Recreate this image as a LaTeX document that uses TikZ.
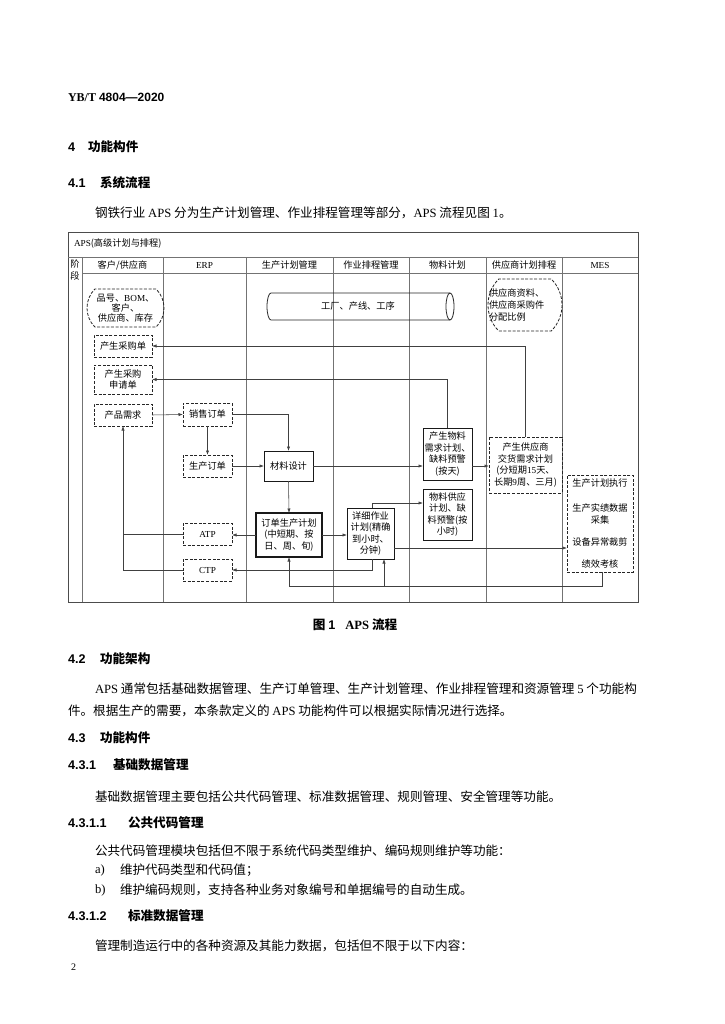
\documentclass[tikz,border=0pt]{standalone}
\usepackage{fontspec}
\setmainfont{Noto Sans CJK SC}
\newfontfamily\lat{Liberation Serif}
\newfontfamily\latsans{Liberation Sans}
\usetikzlibrary{arrows.meta,shapes.misc}
\newcommand\bodyf{\fontsize{12.6}{15}\selectfont}
\newcommand\headf{\fontsize{12.6}{15}\selectfont\bfseries}
\newcommand\numf{\latsans\bfseries\fontsize{12.6}{15}\selectfont}
\newcommand\dgf{\fontsize{9.2}{11.5}\selectfont}
\begin{document}
\begin{tikzpicture}[x=1pt,y=-1pt,
  every node/.style={inner sep=0pt, outer sep=0pt},
  body/.style={anchor=west, font=\bodyf},
  head/.style={anchor=west, font=\headf},
  num/.style={anchor=west, font=\numf},
  grid/.style={draw=black!55, line width=0.5pt},
  dg/.style={font=\dgf, align=center},
  dbox/.style={dg, draw=black!85, line width=0.8pt, dash pattern=on 3pt off 1.6pt},
  sbox/.style={dg, draw=black!90, line width=0.9pt},
  conn/.style={draw=black!75, line width=0.55pt, -{Latex[length=4.5pt,width=3.2pt]}},
  plain/.style={draw=black!75, line width=0.55pt}]
\useasboundingbox[fill=white] (0,0) rectangle (724,1024);

% ---------- page text ----------
\node[anchor=west] (hdr) at (68,97) {{\lat\bfseries\fontsize{12}{14}\selectfont YB/T}\hspace{3pt}{\latsans\bfseries\fontsize{12}{14}\selectfont 4804—2020}};
\node[num] (n4) at (68,147) {4};
\node[head] (h4) at (88,147) {功能构件};
\node[num] (n41) at (68,183) {4.1};
\node[head] (h41) at (100,183) {系统流程};
\node[body] (p1) at (95,213) {钢铁行业 {\lat APS} 分为生产计划管理、作业排程管理等部分，{\lat APS} 流程见图 {\lat 1}。};

\node[font=\headf] (cap) at (355,625) {图 {\latsans 1}\hspace{0.8em}{\lat\bfseries APS} 流程};
\node[num] (n42) at (68,659) {4.2};
\node[head] (h42) at (100,659) {功能架构};
\node[body] (p2) at (95,689) {{\lat APS} 通常包括基础数据管理、生产订单管理、生产计划管理、作业排程管理和资源管理 {\lat 5} 个功能构};
\node[body] (p3) at (68,711) {件。根据生产的需要，本条款定义的 {\lat APS} 功能构件可以根据实际情况进行选择。};
\node[num] (n43) at (68,738) {4.3};
\node[head] (h43) at (100,738) {功能构件};
\node[num] (n431) at (68,765) {4.3.1};
\node[head] (h431) at (113,765) {基础数据管理};
\node[body] (p4) at (95,797) {基础数据管理主要包括公共代码管理、标准数据管理、规则管理、安全管理等功能。};
\node[num] (n4311) at (68,823) {4.3.1.1};
\node[head] (h4311) at (128,823) {公共代码管理};
\node[body] (p5) at (95,851) {公共代码管理模块包括但不限于系统代码类型维护、编码规则维护等功能：};
\node[body] (la) at (95,870) {{\lat a)}};
\node[body] (pa) at (120,870) {维护代码类型和代码值；};
\node[body] (lb) at (95,890) {{\lat b)}};
\node[body] (pb) at (120,890) {维护编码规则，支持各种业务对象编号和单据编号的自动生成。};
\node[num] (n4312) at (68,916) {4.3.1.2};
\node[head] (h4312) at (128,916) {标准数据管理};
\node[body] (p6) at (95,946) {管理制造运行中的各种资源及其能力数据，包括但不限于以下内容：};
\node[anchor=west, font=\lat\fontsize{10}{12}\selectfont] (pg) at (71,967) {2};

% ---------- diagram frame ----------
\draw[grid, draw=black!70] (68,232) rectangle (638,602);
\draw[grid] (68,257) -- (638,257);
\draw[grid] (82,273) -- (638,273);
\foreach \xx in {82,163,246,333,409,486,562} \draw[grid] (\xx,257) -- (\xx,602);

\node[anchor=west, font=\dgf] (ttl) at (74,244) {{\lat APS}(高级计划与排程)};
\node[dg] (jd) at (75,270) {阶\\段};
\node[dg] (c1h) at (122.5,265) {客户/供应商};
\node[dg] (c2h) at (204.5,265) {{\lat ERP}};
\node[dg] (c3h) at (289.5,265) {生产计划管理};
\node[dg] (c4h) at (371,265) {作业排程管理};
\node[dg] (c5h) at (447.5,265) {物料计划};
\node[dg] (c6h) at (524,265) {供应商计划排程};
\node[dg] (c7h) at (600,265) {{\lat MES}};

% ---------- cylinder ----------
\draw[draw=black!85, line width=0.8pt] (271,293) -- (450,293)
  (271,320) -- (450,320)
  (271,293) arc[start angle=90, end angle=270, x radius=4pt, y radius=13.5pt];
\draw[draw=black!85, line width=0.8pt] (450,306.5) ellipse [x radius=4pt, y radius=13.5pt];
\node[dg] (cyl) at (358,306.5) {工厂、产线、工序};

% ---------- nodes ----------
\node[dbox, rounded rectangle, rounded rectangle arc length=90, minimum width=77pt, minimum height=38pt, font=\fontsize{9.2}{10}\selectfont] (pin) at (125.5,308) {品号、{\lat BOM}、\\客户、\\供应商、库存};
\node[dbox, rounded rectangle, rounded rectangle arc length=90, minimum width=74pt, minimum height=52pt] (gysz) at (525,305) {};
\node[anchor=west, align=left, font=\fontsize{9.2}{12}\selectfont] (gyszt) at (489,305) {供应商资料、\\供应商采购件\\分配比例};

\node[dbox, minimum width=58pt, minimum height=22pt] (cg1) at (123,346) {产生采购单};
\node[dbox, minimum width=58pt, minimum height=29pt] (cg2) at (123,379.5) {产生采购\\申请单};
\node[dbox, minimum width=58pt, minimum height=22pt] (cpxq) at (123,415) {产品需求};
\node[dbox, minimum width=49pt, minimum height=23pt] (xsdd) at (207.5,414.5) {销售订单};
\node[dbox, minimum width=49pt, minimum height=22pt] (scdd) at (207.5,466) {生产订单};
\node[sbox, minimum width=49pt, minimum height=30pt] (clsj) at (288.5,466) {材料设计};
\node[sbox, line width=1.3pt, minimum width=66pt, minimum height=44pt] (ddsc) at (289,535) {订单生产计划\\(中短期、按\\日、周、旬)};
\node[dbox, minimum width=49pt, minimum height=22pt] (atp) at (207.5,534) {{\lat ATP}};
\node[dbox, minimum width=49pt, minimum height=22pt] (ctp) at (207.5,570) {{\lat CTP}};
\node[sbox, minimum width=47pt, minimum height=51pt] (xxzy) at (370.5,533.5) {详细作业\\计划(精确\\到小时、\\分钟)};
\node[sbox, minimum width=49pt, minimum height=52pt] (wlxq) at (447.5,454) {产生物料\\需求计划、\\缺料预警\\(按天)};
\node[sbox, minimum width=49pt, minimum height=51pt] (wlgy) at (447.5,514.5) {物料供应\\计划、缺\\料预警(按\\小时)};
\node[dbox, minimum width=73pt, minimum height=56pt] (gysjh) at (525.5,465) {产生供应商\\交货需求计划\\(分短期{\lat 15}天、\\长期{\lat 9}周、三月)};
\node[dbox, minimum width=66pt, minimum height=97pt] (mes) at (600,523.5) {生产计划执行\\[13.5pt]生产实绩数据\\采集\\[10.5pt]设备异常裁剪\\[10.5pt]绩效考核};

% ---------- connectors ----------
\coordinate (k1) at (372,503);
\coordinate (k2) at (394,548);
\coordinate (k3) at (602,586);
\coordinate (k4) at (384,586);

\draw[conn] (gysjh.north) |- (cg1.east);
\draw[conn] (wlxq.north) |- (cg2.east);
\draw[conn] (cpxq.east) -- (xsdd.west);
\draw[conn] (xsdd.south) -- (scdd.north);
\draw[conn] (xsdd.east) -| (clsj.north);
\draw[conn] (scdd.east) -- (clsj.west);
\draw[conn] (clsj.east) -- (clsj.east -| wlxq.west);
\draw[conn] (clsj.south) -- (ddsc.north);
\draw[conn] (ddsc.west) -- (ddsc.west -| atp.east);
\draw[conn] (ddsc.east) -- (ddsc.east -| xxzy.west);
\draw[conn] (xxzy.north -| k1) -- (k1) -- (k1 -| wlgy.west);
\draw[conn] (k2) -- (k2 -| mes.west);
\draw[conn] (xxzy.south -| k1) |- (ctp.east);
\draw[conn] (wlxq.east |- clsj.east) -- (clsj.east -| gysjh.west);
\draw[conn] (mes.south -| k3) -- (k3) -| (ddsc.south);
\draw[conn] (k4) -- (k4 |- xxzy.south);
\draw[conn] (atp.west) -| (cpxq.south);
\draw[plain] (ctp.west) -| (atp.west -| cpxq.south);
\end{tikzpicture}
\end{document}
